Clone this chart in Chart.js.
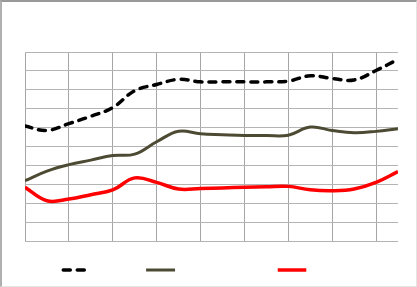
<!DOCTYPE html>
<html>
<head>
<meta charset="utf-8">
<script src="https://cdn.jsdelivr.net/npm/chart.js@4"></script>
<style>
  html, body { margin: 0; padding: 0; background: #fff; }
  #wrap {
    width: 417px; height: 287px; box-sizing: border-box;
    border-top: 2px solid #999; border-left: 2px solid #b0b0b0;
    border-right: 1px solid #e4e4e4; border-bottom: 1px solid #e4e4e4;
  }
  canvas { display: block; }
</style>
</head>
<body>
<div id="wrap"><canvas id="chart" width="414" height="284"></canvas></div>
<script>
// x positions (grid every 1 unit, axis ends at 8.5)
const xValues = [0, 0.5, 1, 1.5, 2, 2.5, 3, 3.5, 4, 4.5, 5, 5.5, 6, 6.5, 7, 7.5, 8, 8.5];

// series values (y grid 0..10)
const blackSeries = [6.08, 5.85, 6.21, 6.6, 7.06, 7.95, 8.28, 8.55, 8.42, 8.42, 8.42, 8.42, 8.46, 8.74, 8.6, 8.52, 9.02, 9.61];
const oliveSeries = [3.19, 3.7, 4.04, 4.28, 4.52, 4.6, 5.25, 5.81, 5.67, 5.62, 5.58, 5.58, 5.6, 6.03, 5.85, 5.73, 5.8, 5.94];
const redSeries   = [2.84, 2.13, 2.22, 2.45, 2.7, 3.34, 3.1, 2.75, 2.78, 2.81, 2.84, 2.87, 2.89, 2.71, 2.66, 2.75, 3.1, 3.67];

// legend has no text, only line samples (fractions of canvas width)
const legendSpots = [[0.148, 0.211], [0.348, 0.418], [0.666, 0.735]];

function pts(ys) {
    return ys.map((y, i) => ({ x: xValues[i], y: y }));
}

const legendLines = {
    id: 'legendLines',
    afterDraw(chart) {
        const ctx = chart.ctx;
        const y = chart.height - 16;
        chart.data.datasets.forEach((ds, i) => {
            const [a, b] = legendSpots[i];
            ctx.save();
            ctx.strokeStyle = ds.borderColor;
            ctx.lineWidth = ds.borderWidth;
            ctx.lineCap = ds.borderCapStyle || 'butt';
            ctx.setLineDash(ds.borderDash || []);
            ctx.beginPath();
            ctx.moveTo(a * chart.width, y);
            ctx.lineTo(b * chart.width, y);
            ctx.stroke();
            ctx.restore();
        });
    }
};

new Chart(document.getElementById('chart'), {
    type: 'line',
    data: {
        datasets: [{
            data: pts(blackSeries),
            borderColor: '#000000',
            borderWidth: 3.5,
            borderDash: [7, 7],
            borderCapStyle: 'round',
            pointRadius: 0,
            tension: 0.4
        }, {
            data: pts(oliveSeries),
            borderColor: '#4d4a33',
            borderWidth: 3,
            pointRadius: 0,
            tension: 0.4
        }, {
            data: pts(redSeries),
            borderColor: '#ff0000',
            borderWidth: 3.5,
            pointRadius: 0,
            tension: 0.4
        }]
    },
    options: {
        responsive: false,
        animation: false,
        layout: { padding: { left: 23, top: 50, right: 18, bottom: 45 } },
        plugins: { legend: { display: false }, tooltip: { enabled: false } },
        scales: {
            x: {
                type: 'linear',
                min: 0, max: 8.5,
                ticks: { display: false, stepSize: 1, includeBounds: false },
                grid: { color: '#a6a6a6', drawTicks: false, lineWidth: 1 },
                border: { display: false }
            },
            y: {
                min: 0, max: 10,
                ticks: { display: false, stepSize: 1 },
                grid: { color: '#b4b4b4', drawTicks: false, lineWidth: 1 },
                border: { display: false }
            }
        }
    },
    plugins: [legendLines]
});
</script>
</body>
</html>
